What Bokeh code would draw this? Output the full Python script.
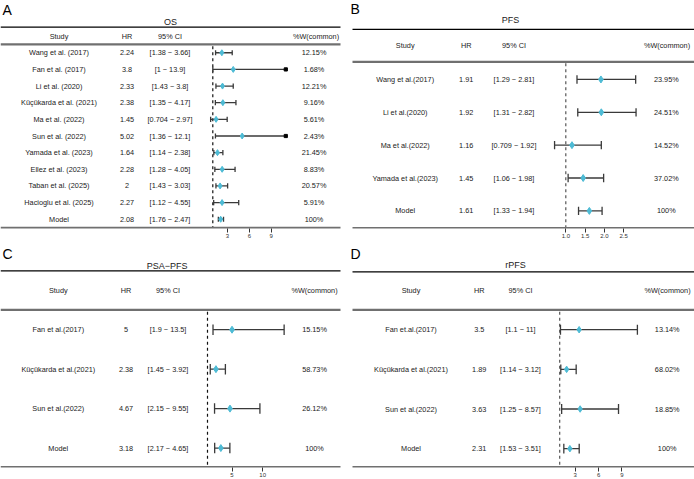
import math
from bokeh.plotting import figure
from bokeh.models import ColumnDataSource, Range1d, LinearAxis, FixedTicker, PrintfTickFormatter
from bokeh.layouts import gridplot
from bokeh.core.properties import value
from bokeh.embed import file_html
from bokeh.resources import INLINE

# ---------------- data ----------------
os_study = ["Wang et al. (2017)", "Fan et al. (2017)", "Li et al. (2020)", "Küçükarda et al. (2021)",
            "Ma et al. (2022)", "Sun et al. (2022)", "Yamada et al. (2023)", "Ellez et al. (2023)",
            "Taban et al. (2025)", "Hacioglu et al. (2025)", "Model"]
os_hr = [2.24, 3.8, 2.33, 2.38, 1.45, 5.02, 1.64, 2.28, 2, 2.27, 2.08]
os_lo = [1.38, 1, 1.43, 1.35, 0.704, 1.36, 1.14, 1.28, 1.43, 1.12, 1.76]
os_hi = [3.66, 13.9, 3.8, 4.17, 2.97, 12.1, 2.38, 4.05, 3.03, 4.55, 2.47]
os_w = [12.15, 1.68, 12.21, 9.16, 5.61, 2.43, 21.45, 8.83, 20.57, 5.91, 100]
os_ticks = [3, 6, 9]

pfs_study = ["Wang et al.(2017)", "Li et al.(2020)", "Ma et al.(2022)", "Yamada et al.(2023)", "Model"]
pfs_hr = [1.91, 1.92, 1.16, 1.45, 1.61]
pfs_lo = [1.29, 1.31, 0.709, 1.06, 1.33]
pfs_hi = [2.81, 2.82, 1.92, 1.98, 1.94]
pfs_w = [23.95, 24.51, 14.52, 37.02, 100]
pfs_ticks = [1.0, 1.5, 2.0, 2.5]

psa_study = ["Fan et al.(2017)", "Küçükarda et al.(2021)", "Sun et al.(2022)", "Model"]
psa_hr = [5, 2.38, 4.67, 3.18]
psa_lo = [1.9, 1.45, 2.15, 2.17]
psa_hi = [13.5, 3.92, 9.55, 4.65]
psa_w = [15.15, 58.73, 26.12, 100]
psa_ticks = [5, 10]

rpfs_study = ["Fan et.al.(2017)", "Küçükarda et al.(2021)", "Sun et al.(2022)", "Model"]
rpfs_hr = [3.5, 1.89, 3.63, 2.31]
rpfs_lo = [1.1, 1.14, 1.25, 1.53]
rpfs_hi = [11, 3.12, 8.57, 3.51]
rpfs_w = [13.14, 68.02, 18.85, 100]
rpfs_ticks = [3, 6, 9]

# ---------------- styling / layout ----------------
FONT = value("Liberation Sans")
PT_COLOR = "#4DBBD5"
TXT = "#222222"
W = 347

CFG = {
    "A": dict(height=240, bottom=11, ref_px=212.3, ppu=7.3, xmax=11,
              title_xy=(170, 22), letter_xy=(2, 2), top=26.7, head=36, headline=44, bot=228.4,
              lx0=0, lx1=340, row0=52.5, step=16.72,
              cols=(58.5, 126.5, 169.5, 313.5), wx=315.5,
              cap=2.6, ms=6, lw=1.3, dash_top=46, dash_color="#111", fmt="%d"),
    "B": dict(height=240, bottom=11, ref_px=218.3, ppu=38.6, xmax=None,
              title_xy=(163, 20), letter_xy=(3, 1), top=29, head=45, headline=61.7, bot=228.6,
              lx0=5, lx1=347, row0=79.3, step=33.0,
              cols=(57.7, 118.7, 166.5, 318.8), wx=319.5,
              cap=4.2, ms=7, lw=1.3, dash_top=63, dash_color="#555", fmt="%.1f"),
    "C": dict(height=239, bottom=10, ref_px=207.0, ppu=6.13, xmax=None,
              title_xy=(166.7, 26), letter_xy=(2, 6), top=30.7, head=50.7, headline=70, bot=228.7,
              lx0=0, lx1=340, row0=90, step=39.8,
              cols=(57.8, 125.5, 167.5, 314), wx=314,
              cap=5.3, ms=7, lw=1.3, dash_top=72, dash_color="#111", fmt="%d"),
    "D": dict(height=239, bottom=10, ref_px=212.2, ppu=7.77, xmax=None,
              title_xy=(168, 25), letter_xy=(3, 6), top=31.7, head=50.7, headline=70, bot=228.7,
              lx0=5, lx1=347, row0=90, step=40,
              cols=(63.5, 131.7, 173, 319.7), wx=320,
              cap=5.0, ms=6.5, lw=1.3, dash_top=72, dash_color="#555", fmt="%d"),
}


def fmt_num(v):
    return f"{v:.3g}"


def fmt_w(w):
    return "100%" if w == 100 else f"{w:.2f}%"


def panel(letter, title, study, hr, lo, hi, w, ticks, c):
    h = c["height"]
    fh = h - c["bottom"]
    p = figure(width=W, height=h, x_range=Range1d(0, W), y_range=Range1d(fh, 0),
               output_backend="svg", toolbar_location=None, x_axis_type=None, y_axis_type=None,
               min_border=0, min_border_left=0, min_border_right=0, min_border_top=0,
               min_border_bottom=c["bottom"])
    p.outline_line_color = None
    p.background_fill_color = "white"
    p.border_fill_color = "white"
    ref, ppu = c["ref_px"], c["ppu"]
    p.extra_x_ranges = {"f": Range1d(1 - ref / ppu, 1 + (W - ref) / ppu)}

    ax = LinearAxis(x_range_name="f", ticker=FixedTicker(ticks=ticks),
                    formatter=PrintfTickFormatter(format=c["fmt"]))
    ax.axis_line_color = None
    ax.major_tick_in = 0
    ax.major_tick_out = 4
    ax.major_tick_line_color = "#333333"
    ax.minor_tick_line_color = None
    ax.major_label_text_font = "Liberation Sans"
    ax.major_label_text_font_size = "6px"
    ax.major_label_text_color = "#333333"
    ax.major_label_standoff = 1
    p.add_layout(ax, "below")

    n = len(study)
    ys = [c["row0"] + i * c["step"] for i in range(n)]

    # table rules
    p.segment(x0=[c["lx0"]], y0=[c["top"]], x1=[c["lx1"]], y1=[c["top"]], line_color="black", line_width=1.3)
    p.segment(x0=[c["lx0"], c["lx0"]], y0=[c["headline"], c["bot"]], x1=[c["lx1"], c["lx1"]],
              y1=[c["headline"], c["bot"]], line_color="#707070", line_width=2.2)

    # reference line at HR = 1
    p.segment(x0=[1], y0=[c["dash_top"]], x1=[1], y1=[c["bot"] - 1], x_range_name="f",
              line_color=c["dash_color"], line_width=1.2, line_dash="3 3")

    # title, letter
    p.text(x=[c["title_xy"][0]], y=[c["title_xy"][1]], text=[title], text_align="center",
           text_baseline="middle", text_font=FONT, text_font_size="9px", text_color=TXT)
    p.text(x=[c["letter_xy"][0]], y=[c["letter_xy"][1]], text=[letter], text_align="left",
           text_baseline="top", text_font=FONT, text_font_size="14px", text_color="black")

    # header
    cx = c["cols"]
    p.text(x=[cx[0], cx[1], cx[2], c["wx"]], y=[c["head"]] * 4,
           text=["Study", "HR", "95% CI", "%W(common)"], text_align="center", text_baseline="middle",
           text_font=FONT, text_font_size="7.3px", text_color=TXT)

    # table body
    src = ColumnDataSource(dict(
        y=ys, study=study, hr=[fmt_num(v) for v in hr],
        ci=[f"[{fmt_num(a)} − {fmt_num(b)}]" for a, b in zip(lo, hi)],
        w=[fmt_w(v) for v in w]))
    for key, x in zip(["study", "hr", "ci", "w"], cx):
        p.text(x=x, y="y", text=key, source=src, text_align="center", text_baseline="middle",
               text_font=FONT, text_font_size="7.3px", text_color=TXT)

    # CI lines
    xmax = c["xmax"]
    hi_draw = [min(b, xmax) if xmax else b for b in hi]
    clipped = [bool(xmax) and b > xmax for b in hi]
    ci_src = ColumnDataSource(dict(lo=lo, hi=hi_draw, y=ys, hr=hr,
                                   y0=[y - c["cap"] for y in ys], y1=[y + c["cap"] for y in ys]))
    p.segment(x0="lo", y0="y", x1="hi", y1="y", source=ci_src, x_range_name="f",
              line_color="#3a3a3a", line_width=c["lw"])
    p.segment(x0="lo", y0="y0", x1="lo", y1="y1", source=ci_src, x_range_name="f",
              line_color="#3a3a3a", line_width=c["lw"])
    cap_src = ColumnDataSource(dict(
        x=[b for b, cl in zip(hi_draw, clipped) if not cl],
        y0=[y - c["cap"] for y, cl in zip(ys, clipped) if not cl],
        y1=[y + c["cap"] for y, cl in zip(ys, clipped) if not cl]))
    p.segment(x0="x", y0="y0", x1="x", y1="y1", source=cap_src, x_range_name="f",
              line_color="#3a3a3a", line_width=c["lw"])
    if any(clipped):
        arr = ColumnDataSource(dict(x=[b for b, cl in zip(hi_draw, clipped) if cl],
                                    y=[y for y, cl in zip(ys, clipped) if cl]))
        p.scatter(x="x", y="y", source=arr, x_range_name="f", marker="square",
                  size=3.2, fill_color="black", line_color="black")
    p.scatter(x="hr", y="y", source=ci_src, x_range_name="f", marker="diamond",
              size=c["ms"], fill_color=PT_COLOR, line_color=PT_COLOR)
    return p


pA = panel("A", "OS", os_study, os_hr, os_lo, os_hi, os_w, os_ticks, CFG["A"])
pB = panel("B", "PFS", pfs_study, pfs_hr, pfs_lo, pfs_hi, pfs_w, pfs_ticks, CFG["B"])
pC = panel("C", "PSA−PFS", psa_study, psa_hr, psa_lo, psa_hi, psa_w, psa_ticks, CFG["C"])
pD = panel("D", "rPFS", rpfs_study, rpfs_hr, rpfs_lo, rpfs_hi, rpfs_w, rpfs_ticks, CFG["D"])

grid = gridplot([[pA, pB], [pC, pD]], toolbar_location=None)
open("out.html", "w").write(file_html(grid, INLINE))
